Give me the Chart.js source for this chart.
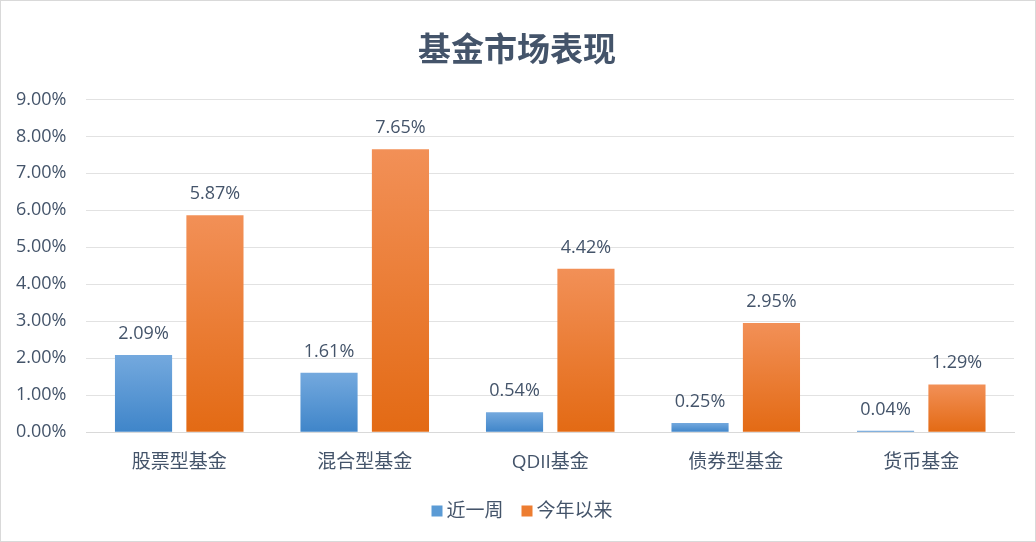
<!DOCTYPE html>
<html>
<head>
<meta charset="utf-8">
<script src="https://cdn.jsdelivr.net/npm/chart.js@4"></script>
<style>
    html, body { margin: 0; padding: 0; background: #fff; }
    #wrap { width: 1034px; height: 540px; border: 1px solid #d9d9d9; position: relative; }
</style>
</head>
<body>
<div id="wrap"><canvas id="fundChart"></canvas></div>
<script>
// Chart data
const categories = ['股票型基金', '混合型基金', 'QDII基金', '债券型基金', '货币基金'];
const weekReturns = [2.09, 1.61, 0.54, 0.25, 0.04];
const ytdReturns = [5.87, 7.65, 4.42, 2.95, 1.29];
const seriesNames = ['近一周', '今年以来'];
const legendColors = ['#5b9bd5', '#ed7d31'];
const chartTitle = '基金市场表现';

const textColor = '#44546a';
const fontFamily = '"Open Sans", "Noto Sans CJK SC", sans-serif';
const titleFont = '"Noto Sans CJK SC", sans-serif';
const titleSize = 33;

// Vertical gradient per bar, from its top down to the zero line
function barGradient(ctx, top, bottom) {
    const chart = ctx.chart;
    const yScale = chart.scales && chart.scales.y;
    if (!yScale || ctx.type !== 'data') return bottom;
    const y0 = yScale.getPixelForValue(ctx.raw);
    const y1 = yScale.getPixelForValue(0);
    if (!isFinite(y0) || !isFinite(y1) || y1 - y0 < 1) return bottom;
    const g = chart.ctx.createLinearGradient(0, y0, 0, y1);
    g.addColorStop(0, top);
    g.addColorStop(1, bottom);
    return g;
}

// Value labels above bars, plus title and legend centred on the whole canvas
const decorations = {
    id: 'decorations',
    afterDatasetsDraw(chart) {
        const ctx = chart.ctx;
        ctx.save();
        ctx.font = '18px ' + fontFamily;
        ctx.fillStyle = textColor;
        ctx.textAlign = 'center';
        ctx.textBaseline = 'alphabetic';
        chart.data.datasets.forEach((ds, i) => {
            chart.getDatasetMeta(i).data.forEach((bar, j) => {
                ctx.fillText(ds.data[j].toFixed(2) + '%', bar.x, bar.y - 16);
            });
        });

        // title
        const tb = chart.titleBlock;
        ctx.font = 'bold ' + titleSize + 'px ' + titleFont;
        ctx.textBaseline = 'middle';
        ctx.fillText(chartTitle, chart.width / 2 - 1, tb.top + 16 + titleSize * 0.6);

        // legend
        ctx.font = '19px ' + fontFamily;
        ctx.textAlign = 'left';
        const box = 11, gap = 4, itemGap = 18;
        const widths = seriesNames.map(n => ctx.measureText(n).width);
        const total = widths.reduce((a, w) => a + box + gap + w, 0) + itemGap * (seriesNames.length - 1);
        let x = chart.width / 2 + 4 - total / 2;
        const y = 510;
        seriesNames.forEach((name, i) => {
            ctx.fillStyle = legendColors[i];
            ctx.fillRect(x, y - box / 2, box, box);
            ctx.fillStyle = textColor;
            ctx.fillText(name, x + box + gap, y + 1);
            x += box + gap + widths[i] + itemGap;
        });
        ctx.restore();
    }
};

const ctx = document.getElementById('fundChart').getContext('2d');
new Chart(ctx, {
    type: 'bar',
    data: {
        labels: categories,
        datasets: [{
            label: seriesNames[0],
            data: weekReturns,
            backgroundColor: (c) => barGradient(c, '#74a9de', '#3f85c9'),
            borderWidth: 0
        }, {
            label: seriesNames[1],
            data: ytdReturns,
            backgroundColor: (c) => barGradient(c, '#f29057', '#e36a14'),
            borderWidth: 0
        }]
    },
    options: {
        responsive: true,
        maintainAspectRatio: false,
        animation: false,
        categoryPercentage: 0.77,
        barPercentage: 0.8,
        layout: { padding: { left: -5, right: 21, top: 12, bottom: 56 } },
        plugins: {
            // space is reserved here, the text itself is drawn by the plugin above
            title: {
                display: true,
                text: chartTitle,
                color: 'rgba(0,0,0,0)',
                font: { size: 32, weight: 'bold', family: titleFont },
                padding: { top: 16, bottom: 32 }
            },
            legend: { display: false },
            tooltip: { enabled: false }
        },
        scales: {
            x: {
                grid: { display: false },
                border: { color: '#d9d9d9' },
                ticks: {
                    color: textColor,
                    font: { size: 19, family: fontFamily },
                    padding: 11
                }
            },
            y: {
                min: 0,
                max: 9,
                border: { display: false },
                grid: { color: '#e2e2e2', drawTicks: false },
                ticks: {
                    stepSize: 1,
                    color: textColor,
                    font: { size: 18, family: fontFamily },
                    padding: 20,
                    callback: (v) => v.toFixed(2) + '%'
                }
            }
        }
    },
    plugins: [decorations]
});
</script>
</body>
</html>
